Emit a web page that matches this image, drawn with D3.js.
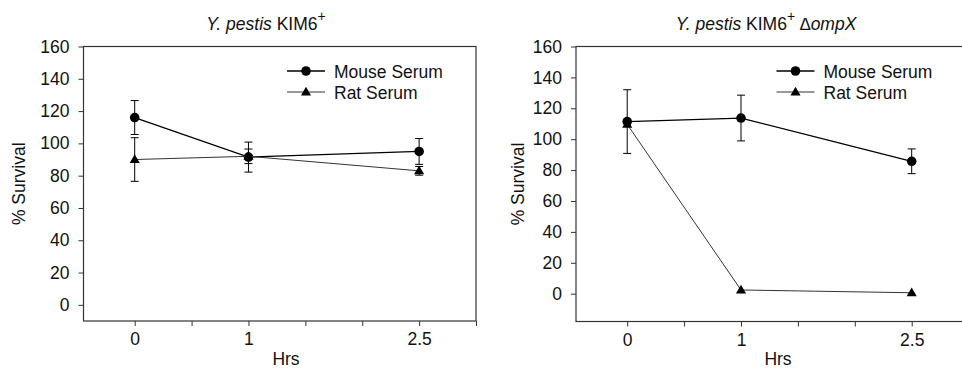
<!DOCTYPE html>
<html lang="en">
<head>
<meta charset="UTF-8">
<title>Y. pestis serum survival</title>
<style>
  body { margin: 0; background: #fff; }
  svg { display: block; font-family: "Liberation Sans", Arial, sans-serif; }
</style>
</head>
<body>
<div id="chart"></div>
<script src="https://d3js.org/d3.v7.min.js"></script>
<script>
// data
const hours = [0, 1, 2.5];
const xTickLabels = ["0", "1", "2.5"];
const xMinorTicks = [0.5, 1.5, 2, 3];
const yTicks = [0, 20, 40, 60, 80, 100, 120, 140, 160];
const seriesNames = ["Mouse Serum", "Rat Serum"];

const wtMouse = [116, 91.5, 95];
const wtMouseErr = [10.5, 9.3, 8];
const wtRat = [90, 92, 83];
const wtRatErr = [13.5, 4.5, 2.7];

const ompMouse = [111.4, 113.7, 85.7];
const ompMouseErr = [20.6, 14.8, 8];
const ompRat = [109.6, 2.4, 0.6];
const ompRatErr = [0, 0, 0];

const W = 962, H = 369;
const FS = 17.5;

const svg = d3.select("#chart").append("svg")
  .attr("width", W)
  .attr("height", H)
  .attr("viewBox", [0, 0, W, H]);

const panels = [
  {
    left: 83.5, right: 476, top: 46.5, bottom: 321, yMin: -10,
    titleX: 266, ylabelX: 25, legendX: 287, hrsX: 286,
    mouse: wtMouse, mouseErr: wtMouseErr, rat: wtRat, ratErr: wtRatErr,
    title: [["Y. pestis", "italic"], [" KIM6", "normal"], ["+", "sup"]]
  },
  {
    left: 576, right: 968.6, top: 46.5, bottom: 321.5, yMin: -18,
    titleX: 766, ylabelX: 524, legendX: 776.5, hrsX: 778,
    mouse: ompMouse, mouseErr: ompMouseErr, rat: ompRat, ratErr: ompRatErr,
    title: [["Y. pestis", "italic"], [" KIM6", "normal"], ["+", "sup"], [" \u2206ompX", "italic"]]
  }
];

const tri = d3.symbol().type(d3.symbolTriangle).size(44);

panels.forEach(p => {
  const x = d3.scaleLinear().domain([-0.45, 3]).range([p.left, p.right]);
  const y = d3.scaleLinear().domain([p.yMin, 160]).range([p.bottom, p.top]);
  const g = svg.append("g");

  // frame
  g.append("rect")
    .attr("x", p.left).attr("y", p.top)
    .attr("width", p.right - p.left).attr("height", p.bottom - p.top)
    .attr("fill", "none").attr("stroke", "#333").attr("stroke-width", 1.2);

  // y axis
  g.append("g")
    .attr("transform", `translate(${p.left},0)`)
    .call(d3.axisLeft(y).tickValues(yTicks).tickSize(5).tickPadding(9))
    .call(a => a.select(".domain").remove())
    .call(a => a.selectAll("line").attr("stroke", "#333"))
    .call(a => a.selectAll("text").attr("font-size", FS).attr("fill", "#111")
      .attr("font-family", "Liberation Sans, Arial, sans-serif"));

  // x axis, minor ticks unlabelled
  const labelOf = d => { const i = hours.indexOf(d); return i >= 0 ? xTickLabels[i] : ""; };
  g.append("g")
    .attr("transform", `translate(0,${p.bottom})`)
    .call(d3.axisBottom(x).tickValues(hours.concat(xMinorTicks)).tickFormat(labelOf).tickSize(5).tickPadding(7))
    .call(a => a.select(".domain").remove())
    .call(a => a.selectAll("line").attr("stroke", "#333"))
    .call(a => a.selectAll("text").attr("font-size", FS).attr("fill", "#111")
      .attr("font-family", "Liberation Sans, Arial, sans-serif"));

  // axis titles
  g.append("text")
    .attr("x", p.hrsX)
    .attr("y", 365)
    .attr("text-anchor", "middle")
    .attr("font-size", FS).attr("fill", "#111")
    .text("Hrs");

  g.append("text")
    .attr("transform", `translate(${p.ylabelX},${(p.top + p.bottom) / 2}) rotate(-90)`)
    .attr("text-anchor", "middle")
    .attr("font-size", FS).attr("fill", "#111")
    .text("% Survival");

  // panel title
  const t = g.append("text")
    .attr("x", p.titleX).attr("y", 30)
    .attr("text-anchor", "middle")
    .attr("font-size", FS).attr("fill", "#111");
  p.title.forEach(([s, kind], i) => {
    const ts = t.append("tspan").text(s);
    if (kind === "italic") ts.attr("font-style", "italic");
    if (kind === "sup") ts.attr("font-size", 14).attr("dy", -9);
    if (i > 0 && p.title[i - 1][1] === "sup") ts.attr("dy", 9);
  });

  const series = [
    { name: seriesNames[0], vals: p.mouse, errs: p.mouseErr, marker: "circle", width: 1.3, color: "#000" },
    { name: seriesNames[1], vals: p.rat, errs: p.ratErr, marker: "tri", width: 1, color: "#333" }
  ];

  const line = d3.line().x(d => x(d[0])).y(d => y(d[1]));

  series.forEach(s => {
    const pts = hours.map((h, i) => [h, s.vals[i], s.errs[i]]);

    // error bars
    const eb = g.append("g").attr("stroke", "#000").attr("stroke-width", 1);
    pts.filter(d => d[2] > 0).forEach(d => {
      eb.append("line").attr("x1", x(d[0])).attr("x2", x(d[0]))
        .attr("y1", y(d[1] - d[2])).attr("y2", y(d[1] + d[2]));
      [d[1] - d[2], d[1] + d[2]].forEach(v => {
        eb.append("line").attr("x1", x(d[0]) - 4).attr("x2", x(d[0]) + 4)
          .attr("y1", y(v)).attr("y2", y(v));
      });
    });

    g.append("path")
      .datum(pts)
      .attr("d", line)
      .attr("fill", "none")
      .attr("stroke", s.color)
      .attr("stroke-width", s.width);

    if (s.marker === "circle") {
      g.selectAll(null).data(pts).join("circle")
        .attr("cx", d => x(d[0])).attr("cy", d => y(d[1])).attr("r", 4.8).attr("fill", "#000");
    } else {
      g.selectAll(null).data(pts).join("path")
        .attr("d", tri)
        .attr("transform", d => `translate(${x(d[0])},${y(d[1]) + 0.5})`)
        .attr("fill", "#000");
    }
  });

  // legend
  series.forEach((s, i) => {
    const ly = 71 + i * 21;
    const lg = g.append("g").attr("transform", `translate(${p.legendX},${ly})`);
    lg.append("line").attr("x1", 0).attr("x2", 38).attr("y1", 0).attr("y2", 0)
      .attr("stroke", s.color).attr("stroke-width", s.width);
    if (s.marker === "circle") {
      lg.append("circle").attr("cx", 19).attr("cy", 0).attr("r", 4.8).attr("fill", "#000");
    } else {
      lg.append("path").attr("d", tri).attr("transform", "translate(19,0.5)").attr("fill", "#000");
    }
    lg.append("text").attr("x", 47).attr("y", 6.5)
      .attr("font-size", FS).attr("fill", "#111")
      .text(s.name);
  });
});
</script>
</body>
</html>
